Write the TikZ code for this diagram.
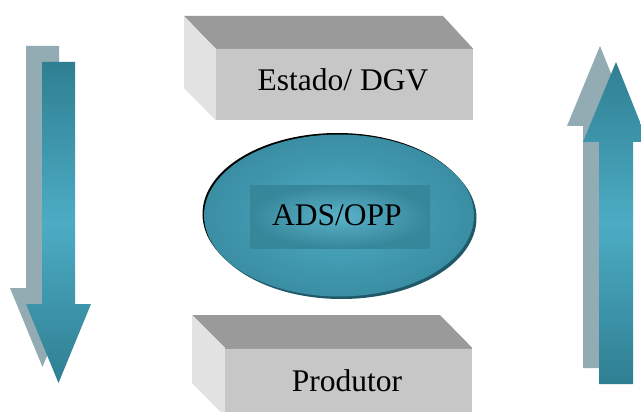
\documentclass[tikz,border=0pt]{standalone}
\usepackage{fontspec}
\setmainfont{Liberation Serif}
\usetikzlibrary{shapes.geometric}
\definecolor{tealdark}{HTML}{2F7F92}
\definecolor{teallight}{HTML}{4CACC4}
\definecolor{tealmid}{HTML}{3A8EA3}
\definecolor{tealshadow}{HTML}{1F5866}
\definecolor{arrowshadow}{HTML}{93ABB3}
\definecolor{boxtop}{HTML}{9A9A9A}
\definecolor{boxfront}{HTML}{C7C7C7}
\definecolor{boxside}{HTML}{E2E2E2}
\tikzset{
  lbl/.style={font=\fontsize{31.5}{36}\selectfont, text=black},
  frontface/.style={rectangle, fill=boxfront, inner sep=0pt},
  topface/.style={fill=boxtop},
  sideface/.style={fill=boxside},
  flowarrow/.style={top color=tealdark, bottom color=tealdark, middle color=teallight},
  flowshadow/.style={fill=arrowshadow},
}
\begin{document}
\begin{tikzpicture}[x=1pt,y=-1pt]
\clip (0,0) rectangle (641,412);
\fill[white] (0,0) rectangle (641,412);

% downward arrow on the left, with its flat shadow
\fill[flowshadow] (26,46) -- (59,46) -- (59,288) -- (75,288) -- (42.5,367) -- (10,288) -- (26,288) -- cycle;
\shade[flowarrow] (42,62) -- (75,62) -- (75,304) -- (91,304) -- (58.5,383) -- (26,304) -- (42,304) -- cycle;

% upward arrow on the right, with its flat shadow
\fill[flowshadow] (583,368) -- (617,368) -- (617,126) -- (632,126) -- (600,46) -- (567,126) -- (583,126) -- cycle;
\shade[flowarrow] (599,384) -- (633,384) -- (633,142) -- (648,142) -- (616,62) -- (583,142) -- (599,142) -- cycle;

% top block
\node[frontface, minimum width=257pt, minimum height=71pt] (estado) at (344.5,84.5) {};
\fill[topface] (184,16) -- (443,16) -- (estado.north east) -- (estado.north west) -- cycle;
\fill[sideface] (184,16) -- (estado.north west) -- (estado.south west) -- (184,88) -- cycle;
\draw[boxfront!80!black, line width=0.6pt] (estado.north west) -- (estado.north east);
\node[lbl] (estadotxt) at (343,80) {Estado/ DGV};

% bottom block
\node[frontface, minimum width=247pt, minimum height=68pt] (produtor) at (348.5,382) {};
\fill[topface] (192,315) -- (440,315) -- (produtor.north east) -- (produtor.north west) -- cycle;
\fill[sideface] (192,315) -- (produtor.north west) -- (produtor.south west) -- (192,383) -- cycle;
\draw[boxfront!80!black, line width=0.6pt] (produtor.north west) -- (produtor.north east);
\node[lbl] (produtortxt) at (347,381) {Produtor};

% central ellipse with its shadows
\fill[black] (337.5,214) ellipse [x radius=135pt, y radius=81pt];
\fill[tealshadow] (341.5,218) ellipse [x radius=135pt, y radius=81pt];
\node[ellipse, minimum width=270pt, minimum height=162pt, inner sep=0pt,
      inner color=teallight, outer color=tealmid] (ads) at (339,215.5) {};
\node[rectangle, minimum width=180pt, minimum height=63pt, inner sep=0pt,
      inner color=teallight!92!white, outer color=tealmid!95!black] (adsbox) at (340,216.5) {};
\node[lbl] (adstxt) at (337,215) {ADS/OPP};
\end{tikzpicture}
\end{document}
